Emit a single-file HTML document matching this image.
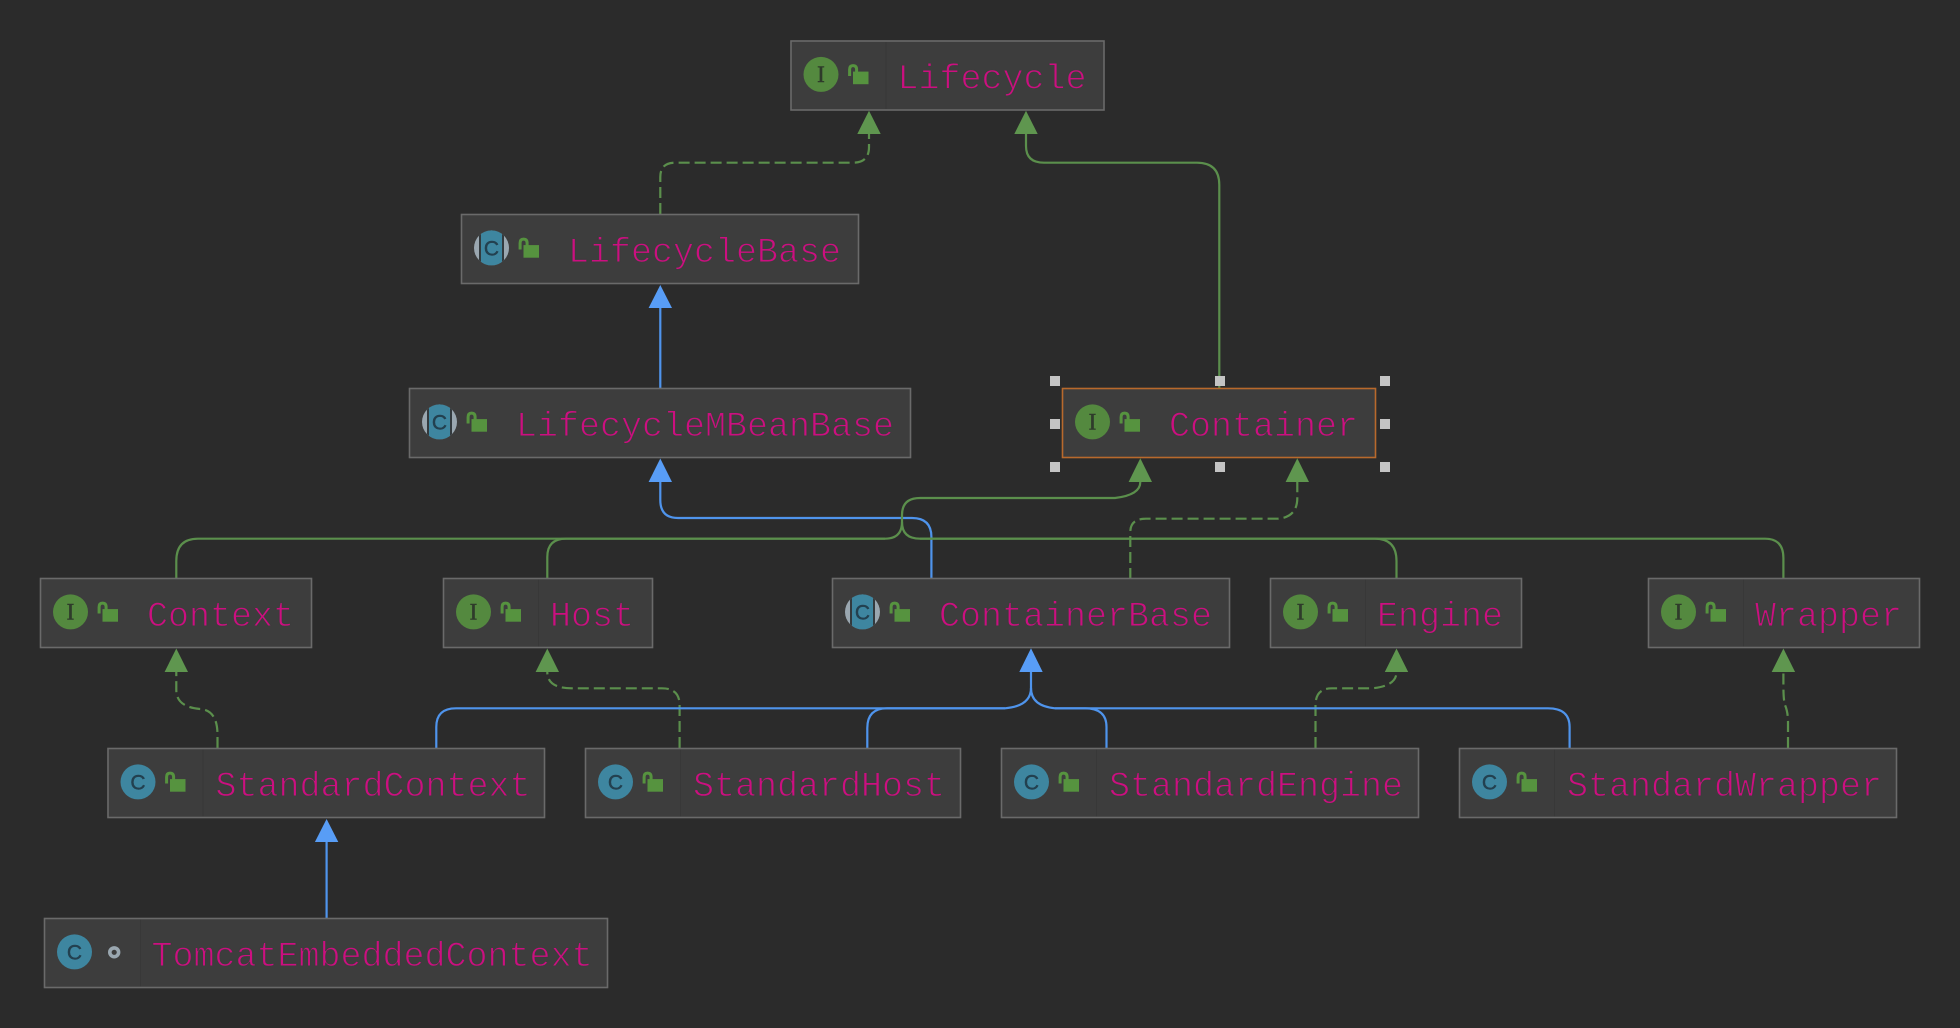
<!DOCTYPE html>
<html><head><meta charset="utf-8"><style>
html,body{margin:0;padding:0;background:#2b2b2b;width:1960px;height:1028px;overflow:hidden}
svg{display:block}
.box{fill:#3d3d3d;stroke:#6a6a6a;stroke-width:1.6}
.div{stroke:#383838;stroke-width:1}
.t{font-family:"Liberation Mono",monospace;font-size:35px;fill:#cc0f80;stroke:#3d3d3d;stroke-width:1px}
.g{fill:none;stroke:#5b8f4c;stroke-width:2.2}
.d{fill:none;stroke:#5b8f4c;stroke-width:2.2;stroke-dasharray:11 5}
.b{fill:none;stroke:#4f94ec;stroke-width:2.2}
.ag{fill:#5f964f}.ab{fill:#589df6}
.I{font-family:"Liberation Serif",serif;font-size:23px;fill:#2f3b2b;stroke:#2f3b2b;stroke-width:.5px;text-anchor:middle}
.C{font-family:"Liberation Sans",sans-serif;font-size:21px;fill:#23404f;stroke:#23404f;stroke-width:.4px;text-anchor:middle}
.h{fill:#c4c4c4}
</style></head><body>
<svg width="1960" height="1028" viewBox="0 0 1960 1028" xmlns="http://www.w3.org/2000/svg">
<defs>
<clipPath id="cc"><circle cx="30" cy="33.4" r="17.5"/></clipPath>
<g id="lock"><rect x="62" y="30.6" width="15.5" height="12.6" fill="#56933f"/><path d="M58.6 35V28.5Q58.6 24.6 62 24.6Q65.6 24.6 65.6 28.5V31" fill="none" stroke="#56933f" stroke-width="3"/></g>
<circle id="ci" cx="30" cy="33.4" r="17.5" fill="#54893f"/>
<circle id="cc1" cx="30" cy="33.4" r="17.5" fill="#3e86a0"/>
<g id="cabs" clip-path="url(#cc)"><rect x="12" y="15" width="36" height="37" fill="#9aa7b0"/><rect x="17.5" y="15" width="25" height="37" fill="#333a3e"/><rect x="19.5" y="15" width="21" height="37" fill="#3e86a0"/></g>
</defs>
<rect width="1960" height="1028" fill="#2b2b2b"/>

<!-- connectors -->
<path class="d" d="M660.3 214V177Q660.3 162.7 675 162.7H853Q869 162.7 869 147V134"/>
<path class="g" d="M1219.3 388V185Q1219.3 162.7 1197 162.7H1044Q1026 162.7 1026 146V134"/>
<path class="b" d="M660.3 388V308"/>
<path class="b" d="M931.4 579V537Q931.4 518 912 518H678Q660.3 518 660.3 500V481"/>
<path class="g" d="M176.3 579V561Q176.3 538.7 198 538.7H885Q902 538.7 902 522V515Q902 498 920 498H1115Q1140.3 495 1140.3 482"/>
<path class="g" d="M547.3 579V557Q547.3 538.7 566 538.7H885"/>
<path class="g" d="M1396.5 579V561Q1396.5 538.7 1375 538.7H920"/>
<path class="g" d="M1783.4 579V558Q1783.4 538.7 1765 538.7H920Q902 538.7 902 522"/>
<path class="d" d="M1130.3 579V532Q1130.3 518.7 1146 518.7H1278Q1297.3 517 1297.3 498V482"/>
<path class="d" d="M217.5 748V735Q217.5 710 200 709Q176.3 707 176.3 690V672"/>
<path class="d" d="M679.6 748V705Q679.6 688.3 662 688.3H572Q547.3 688.3 547.3 672"/>
<path class="d" d="M1315.5 748V705Q1315.5 688.3 1332 688.3H1372Q1396.5 686 1396.5 672"/>
<path class="d" d="M1788 748V722Q1788 712 1785 705Q1783.4 700 1783.4 685V672"/>
<path class="b" d="M436.3 748V727Q436.3 708.3 456 708.3H1005Q1031 706 1031 688V672"/>
<path class="b" d="M867.3 748V728Q867.3 708.3 887 708.3H1005"/>
<path class="b" d="M1106.5 748V727Q1106.5 708.3 1085 708.3H1055Q1031 706 1031 688"/>
<path class="b" d="M1569.6 748V727Q1569.6 708.3 1548 708.3H1055"/>
<path class="b" d="M326.6 918V842"/>

<!-- arrowheads -->
<polygon class="ag" points="869,110.7 880.7,134 857.3,134"/>
<polygon class="ag" points="1026,110.7 1037.7,134 1014.3,134"/>
<polygon class="ab" points="660.3,285 672,308 648.6,308"/>
<polygon class="ab" points="660.3,458.5 672,482 648.6,482"/>
<polygon class="ag" points="1140.3,458.3 1152,482 1128.6,482"/>
<polygon class="ag" points="1297.3,458.3 1309,482 1285.6,482"/>
<polygon class="ag" points="176.3,648.5 188,672 164.6,672"/>
<polygon class="ag" points="547.3,648.5 559,672 535.6,672"/>
<polygon class="ab" points="1031,648.3 1042.7,672 1019.3,672"/>
<polygon class="ag" points="1396.5,648.5 1408.2,672 1384.8,672"/>
<polygon class="ag" points="1783.4,648.5 1795.1,672 1771.7,672"/>
<polygon class="ab" points="326.6,819 338.3,842 314.9,842"/>

<!-- nodes -->
<g transform="translate(791 41)"><rect class="box" width="313" height="69"/><line class="div" x1="95" x2="95" y1="1" y2="68"/><use href="#ci"/><text class="I" x="30" y="41">I</text><use href="#lock"/><text class="t" x="106.5" y="47.5">Lifecycle</text></g>
<g transform="translate(461.5 214.5)"><rect class="box" width="397" height="69"/><use href="#cabs"/><text class="C" x="30" y="41">C</text><use href="#lock"/><text class="t" x="106.5" y="47.5">LifecycleBase</text></g>
<g transform="translate(409.5 388.5)"><rect class="box" width="501" height="69"/><use href="#cabs"/><text class="C" x="30" y="41">C</text><use href="#lock"/><text class="t" x="106.5" y="47.5">LifecycleMBeanBase</text></g>
<g transform="translate(1062.5 388.5)"><rect class="box" width="313" height="69" style="stroke:#b8692c"/><use href="#ci"/><text class="I" x="30" y="41">I</text><use href="#lock"/><text class="t" x="106.5" y="47.5">Container</text></g>
<g class="h">
<rect x="1050" y="376" width="10" height="10"/><rect x="1215" y="376" width="10" height="10"/><rect x="1380" y="376" width="10" height="10"/>
<rect x="1050" y="419" width="10" height="10"/><rect x="1380" y="419" width="10" height="10"/>
<rect x="1050" y="462" width="10" height="10"/><rect x="1215" y="462" width="10" height="10"/><rect x="1380" y="462" width="10" height="10"/>
</g>

<g transform="translate(40.5 578.5)"><rect class="box" width="271" height="69"/><use href="#ci"/><text class="I" x="30" y="41">I</text><use href="#lock"/><text class="t" x="106.5" y="47.5">Context</text></g>
<g transform="translate(443.5 578.5)"><rect class="box" width="209" height="69"/><line class="div" x1="95" x2="95" y1="1" y2="68"/><use href="#ci"/><text class="I" x="30" y="41">I</text><use href="#lock"/><text class="t" x="106.5" y="47.5">Host</text></g>
<g transform="translate(832.5 578.5)"><rect class="box" width="397" height="69"/><use href="#cabs"/><text class="C" x="30" y="41">C</text><use href="#lock"/><text class="t" x="106.5" y="47.5">ContainerBase</text></g>
<g transform="translate(1270.5 578.5)"><rect class="box" width="251" height="69"/><line class="div" x1="95" x2="95" y1="1" y2="68"/><use href="#ci"/><text class="I" x="30" y="41">I</text><use href="#lock"/><text class="t" x="106.5" y="47.5">Engine</text></g>
<g transform="translate(1648.5 578.5)"><rect class="box" width="271" height="69"/><line class="div" x1="95" x2="95" y1="1" y2="68"/><use href="#ci"/><text class="I" x="30" y="41">I</text><use href="#lock"/><text class="t" x="106.5" y="47.5">Wrapper</text></g>

<g transform="translate(108 748.5)"><rect class="box" width="436.5" height="69"/><line class="div" x1="95" x2="95" y1="1" y2="68"/><use href="#cc1"/><text class="C" x="30" y="41">C</text><use href="#lock"/><text class="t" x="107.5" y="47.5">StandardContext</text></g>
<g transform="translate(585.5 748.5)"><rect class="box" width="375" height="69"/><line class="div" x1="95" x2="95" y1="1" y2="68"/><use href="#cc1"/><text class="C" x="30" y="41">C</text><use href="#lock"/><text class="t" x="107.5" y="47.5">StandardHost</text></g>
<g transform="translate(1001.5 748.5)"><rect class="box" width="417" height="69"/><line class="div" x1="95" x2="95" y1="1" y2="68"/><use href="#cc1"/><text class="C" x="30" y="41">C</text><use href="#lock"/><text class="t" x="107.5" y="47.5">StandardEngine</text></g>
<g transform="translate(1459.5 748.5)"><rect class="box" width="437" height="69"/><line class="div" x1="95" x2="95" y1="1" y2="68"/><use href="#cc1"/><text class="C" x="30" y="41">C</text><use href="#lock"/><text class="t" x="107.5" y="47.5">StandardWrapper</text></g>
<g transform="translate(44.5 918.5)"><rect class="box" width="563" height="69"/><line class="div" x1="96" x2="96" y1="1" y2="68"/><use href="#cc1"/><text class="C" x="30" y="41">C</text><circle cx="69.7" cy="33.8" r="4.4" fill="none" stroke="#9aa7b0" stroke-width="3.6"/><text class="t" x="107" y="47.5">TomcatEmbeddedContext</text></g>
</svg>
</body></html>
